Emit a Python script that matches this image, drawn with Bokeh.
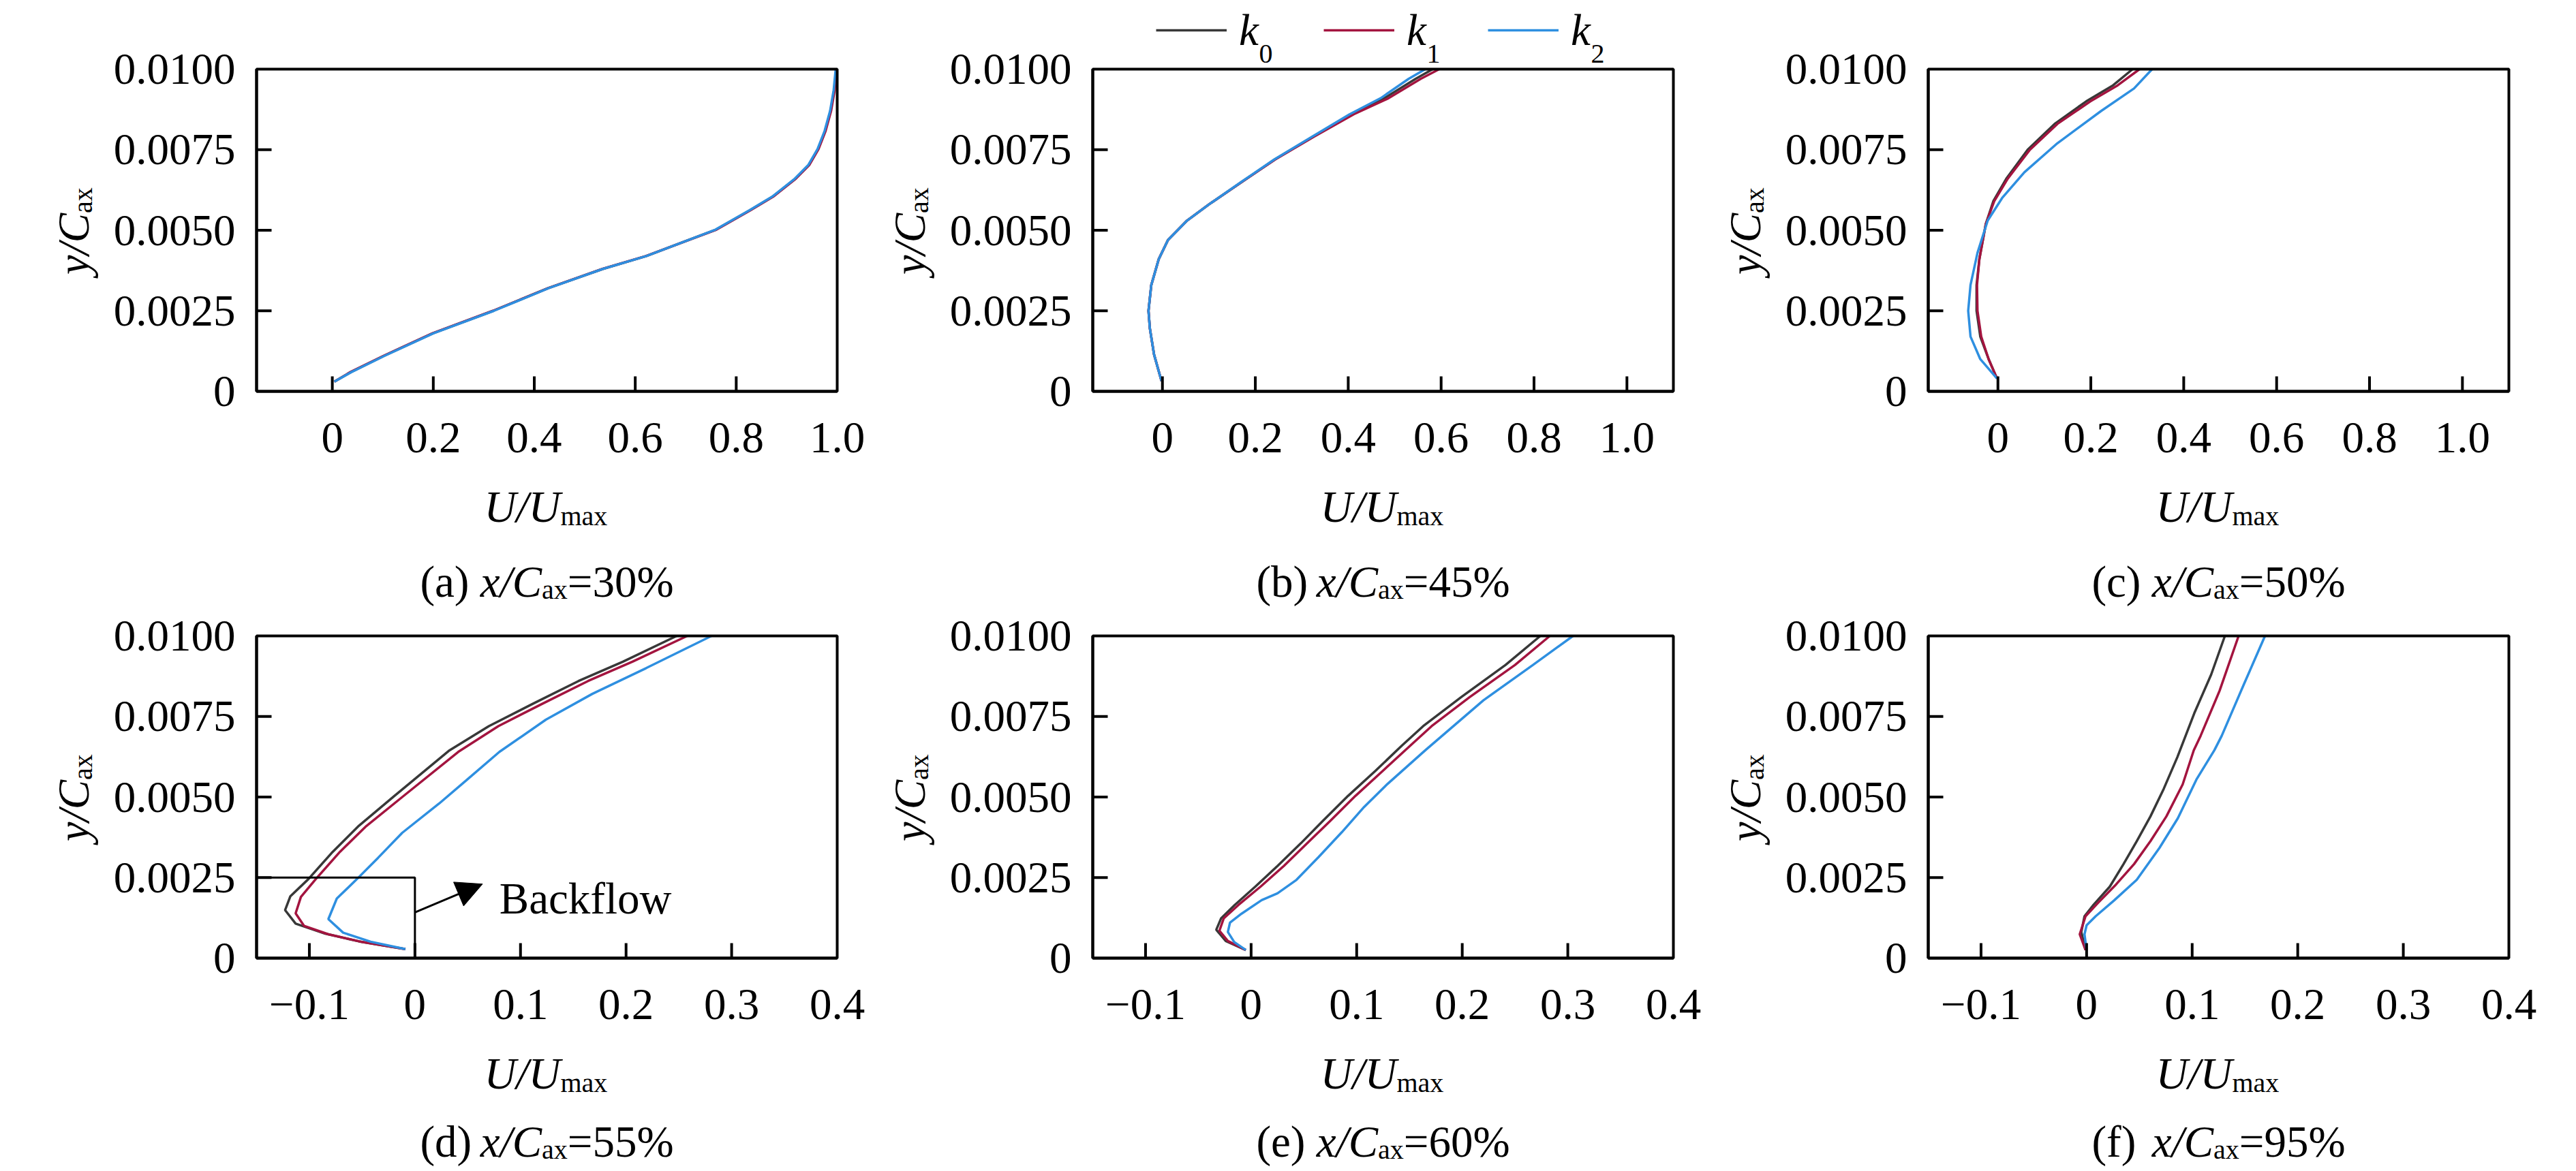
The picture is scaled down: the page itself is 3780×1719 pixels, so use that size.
from bokeh.plotting import figure
from bokeh.models import (Range1d, FixedTicker, Label, BoxAnnotation, Arrow,
                          NormalHead, Legend, LegendItem, LinearAxis)
from bokeh.embed import file_html
from bokeh.resources import INLINE

# ---------------- data ----------------
SERIES = ["k0", "k1", "k2"]
SUBSCRIPTS = ["0", "1", "2"]
COLORS = ["#383838", "#a3143f", "#2e8fe0"]

Y_RANGE = (0.0, 0.01)
Y_TICKS = [0, 0.0025, 0.005, 0.0075, 0.01]
Y_LABELS = ["0", "0.0025", "0.0050", "0.0075", "0.0100"]
X_TICKS_TOP = [0, 0.2, 0.4, 0.6, 0.8, 1.0]
X_LABELS_TOP = ["0", "0.2", "0.4", "0.6", "0.8", "1.0"]
X_TICKS_BOT = [-0.1, 0, 0.1, 0.2, 0.3, 0.4]
X_LABELS_BOT = ["\u22120.1", "0", "0.1", "0.2", "0.3", "0.4"]

CAPTION_LETTERS = ["a", "b", "c", "d", "e", "f"]
CAPTION_PCTS = ["30%", "45%", "50%", "55%", "60%", "95%"]

# (a) x/Cax = 30%
A_Y = [0.0003, 0.0006, 0.0011, 0.0018, 0.0025, 0.0032, 0.0038, 0.0042,
       0.00502, 0.00562, 0.00604, 0.0066, 0.00703, 0.00752, 0.00808,
       0.00871, 0.00935, 0.0100]
A_K0_X = [0.004, 0.037, 0.102, 0.199, 0.319, 0.427, 0.536, 0.622,
          0.760, 0.827, 0.872, 0.917, 0.944, 0.962, 0.976,
          0.987, 0.994, 0.998]
A_K1_X = [0.004, 0.036, 0.101, 0.198, 0.318, 0.427, 0.535, 0.621,
          0.761, 0.828, 0.873, 0.918, 0.945, 0.963, 0.977,
          0.988, 0.995, 0.998]
A_K2_X = [0.004, 0.038, 0.103, 0.200, 0.320, 0.428, 0.536, 0.622,
          0.759, 0.826, 0.871, 0.916, 0.943, 0.961, 0.975,
          0.986, 0.993, 0.997]

# (b) x/Cax = 45%
B_Y = [0.00032, 0.00114, 0.00195, 0.0025, 0.0033, 0.0041, 0.0047, 0.0053,
       0.0058, 0.0065, 0.0072, 0.0079, 0.0086, 0.0091, 0.0097, 0.0100]
B_K0_X = [-0.002, -0.018, -0.027, -0.030, -0.024, -0.008, 0.012, 0.053,
          0.100, 0.171, 0.242, 0.324, 0.405, 0.478, 0.545, 0.582]
B_K1_X = [-0.002, -0.018, -0.027, -0.030, -0.024, -0.008, 0.012, 0.053,
          0.100, 0.171, 0.243, 0.326, 0.412, 0.487, 0.556, 0.596]
B_K2_X = [-0.002, -0.018, -0.027, -0.030, -0.024, -0.008, 0.012, 0.053,
          0.100, 0.170, 0.241, 0.322, 0.403, 0.470, 0.530, 0.566]

# (c) x/Cax = 50%
C_K0_Y = [0.0004, 0.001, 0.0017, 0.0025, 0.0033, 0.0041, 0.0052, 0.0059,
          0.0066, 0.0075, 0.0083, 0.0090, 0.0095, 0.0100]
C_K0_X = [-0.002, -0.020, -0.038, -0.046, -0.046, -0.040, -0.026, -0.010,
          0.018, 0.064, 0.122, 0.190, 0.248, 0.290]
C_K1_Y = [0.0004, 0.001, 0.0017, 0.0025, 0.0033, 0.0041, 0.0052, 0.0059,
          0.0066, 0.0075, 0.0083, 0.0090, 0.0095, 0.0100]
C_K1_X = [-0.002, -0.020, -0.036, -0.044, -0.045, -0.040, -0.026, -0.008,
          0.021, 0.069, 0.128, 0.199, 0.258, 0.305]
C_K2_Y = [0.0004, 0.001, 0.0017, 0.0025, 0.0033, 0.0043, 0.0053, 0.0060,
          0.0068, 0.0077, 0.0087, 0.0094, 0.0100]
C_K2_X = [-0.002, -0.038, -0.059, -0.064, -0.059, -0.044, -0.022, 0.009,
          0.057, 0.128, 0.222, 0.293, 0.332]

# (d) x/Cax = 55%
D_K0_Y = [0.00028, 0.00052, 0.00076, 0.00107, 0.00149, 0.00192, 0.00245, 0.00326,
          0.00411, 0.00502, 0.00643, 0.0072, 0.0079, 0.0086, 0.0092, 0.0100]
D_K0_X = [-0.009, -0.053, -0.085, -0.113, -0.123, -0.118, -0.101, -0.079,
          -0.053, -0.020, 0.032, 0.070, 0.112, 0.155, 0.197, 0.248]
D_K1_Y = [0.00028, 0.0005, 0.00074, 0.0010, 0.00139, 0.0019, 0.00245, 0.0033,
          0.0041, 0.0050, 0.0064, 0.0072, 0.0079, 0.0086, 0.0092, 0.0100]
D_K1_X = [-0.009, -0.050, -0.082, -0.105, -0.113, -0.108, -0.094, -0.071,
          -0.046, -0.012, 0.041, 0.079, 0.121, 0.164, 0.206, 0.258]
D_K2_Y = [0.00028, 0.00051, 0.00079, 0.00121, 0.00185, 0.00245, 0.00311, 0.00389,
          0.0048, 0.0055, 0.0064, 0.0074, 0.0082, 0.0090, 0.0100]
D_K2_X = [-0.009, -0.042, -0.068, -0.082, -0.074, -0.055, -0.035, -0.012,
          0.023, 0.048, 0.080, 0.124, 0.168, 0.219, 0.281]

# (e) x/Cax = 60%
E_K0_Y = [0.00025, 0.00053, 0.00088, 0.00123, 0.00165, 0.00222, 0.00286, 0.00356,
          0.00426, 0.00504, 0.00582, 0.0066, 0.0072, 0.0081, 0.0091, 0.0100]
E_K0_X = [-0.005, -0.024, -0.033, -0.0285, -0.0155, 0.004, 0.025, 0.047,
          0.068, 0.092, 0.118, 0.143, 0.163, 0.199, 0.241, 0.274]
E_K1_Y = [0.00025, 0.00053, 0.00085, 0.00123, 0.00165, 0.00222, 0.00286, 0.00356,
          0.00426, 0.00504, 0.00582, 0.0066, 0.0072, 0.0081, 0.0091, 0.0100]
E_K1_X = [-0.005, -0.022, -0.030, -0.026, -0.012, 0.009, 0.031, 0.053,
          0.075, 0.099, 0.125, 0.151, 0.171, 0.207, 0.250, 0.283]
E_K2_Y = [0.00025, 0.0005, 0.00081, 0.0011, 0.00138, 0.0018, 0.00201, 0.00243,
          0.00314, 0.00391, 0.00469, 0.0054, 0.00645, 0.0080, 0.0091, 0.0100]
E_K2_X = [-0.005, -0.016, -0.022, -0.020, -0.009, 0.010, 0.025, 0.043,
          0.064, 0.086, 0.107, 0.129, 0.165, 0.220, 0.267, 0.305]

# (f) x/Cax = 95%
F_K0_Y = [0.00025, 0.00081, 0.0013, 0.00165, 0.00222, 0.00292, 0.00363, 0.0044,
          0.00525, 0.00624, 0.0076, 0.0088, 0.0100]
F_K0_X = [-0.001, -0.005, -0.002, 0.0065, 0.022, 0.035, 0.0475, 0.0605,
          0.073, 0.086, 0.102, 0.118, 0.131]
F_K1_Y = [0.00025, 0.00074, 0.0013, 0.00172, 0.00229, 0.00292, 0.00363, 0.0044,
          0.00539, 0.00645, 0.0069, 0.0083, 0.0100]
F_K1_X = [-0.001, -0.0065, -0.001, 0.011, 0.028, 0.045, 0.0605, 0.0756,
          0.091, 0.1015, 0.108, 0.126, 0.144]
F_K2_Y = [0.00025, 0.00074, 0.00102, 0.0013, 0.00179, 0.00243, 0.00342, 0.00434,
          0.00554, 0.00645, 0.0069, 0.0085, 0.0100]
F_K2_X = [0.0, -0.002, 0.0, 0.0086, 0.026, 0.0475, 0.069, 0.0864,
          0.104, 0.121, 0.128, 0.149, 0.169]

# Backflow annotation (panel d), data coordinates
BACKFLOW_BOX = dict(left=-0.15, right=0.0, bottom=0.0, top=0.0025)
BACKFLOW_ARROW = dict(x_start=0.0, y_start=0.00142, x_end=0.064, y_end=0.0023)
BACKFLOW_TEXT = dict(x=0.080, y=0.00186, text="Backflow")

PANELS = [
    dict(xr=(-0.15, 1.0), xt=X_TICKS_TOP, xl=X_LABELS_TOP,
         curves=[(A_K0_X, A_Y), (A_K1_X, A_Y), (A_K2_X, A_Y)]),
    dict(xr=(-0.15, 1.1), xt=X_TICKS_TOP, xl=X_LABELS_TOP,
         curves=[(B_K0_X, B_Y), (B_K1_X, B_Y), (B_K2_X, B_Y)]),
    dict(xr=(-0.15, 1.1), xt=X_TICKS_TOP, xl=X_LABELS_TOP,
         curves=[(C_K0_X, C_K0_Y), (C_K1_X, C_K1_Y), (C_K2_X, C_K2_Y)]),
    dict(xr=(-0.15, 0.4), xt=X_TICKS_BOT, xl=X_LABELS_BOT,
         curves=[(D_K0_X, D_K0_Y), (D_K1_X, D_K1_Y), (D_K2_X, D_K2_Y)]),
    dict(xr=(-0.15, 0.4), xt=X_TICKS_BOT, xl=X_LABELS_BOT,
         curves=[(E_K0_X, E_K0_Y), (E_K1_X, E_K1_Y), (E_K2_X, E_K2_Y)]),
    dict(xr=(-0.15, 0.4), xt=X_TICKS_BOT, xl=X_LABELS_BOT,
         curves=[(F_K0_X, F_K0_Y), (F_K1_X, F_K1_Y), (F_K2_X, F_K2_Y)]),
]

# ---------------- style / layout (page pixels) ----------------
FONT = "Liberation Serif"
FS = 65          # main font px
SUB = 40         # subscript font px
W, H = 3776, 1716           # whole canvas
FW, FH = 852, 473           # size of each boxed plot area
COL_LEFT = [376, 1603, 2829]
ROW_TOP = [101, 933]
CAPTION_GAP = [279, 269]    # box bottom -> caption baseline, per row
TICK_LEN = 22               # inward tick length, px

p = figure(frame_width=W, frame_height=H,
           x_range=Range1d(0, W), y_range=Range1d(0, H),
           x_axis_location=None, y_axis_location=None, title=None,
           min_border=0, output_backend="svg", toolbar_location=None,
           background_fill_color="white", border_fill_color="white")
p.grid.visible = False
p.outline_line_color = None


def lab(x, y_page, text, size=FS, style="normal", align="left", angle=0.0):
    p.add_layout(Label(x=x, y=H - y_page, x_units="screen", y_units="screen",
                       text=text, text_font=FONT, text_font_size=f"{size}px",
                       text_font_style=style, text_color="black",
                       text_align=align, text_baseline="alphabetic",
                       angle=angle))


def style_axis(ax):
    ax.axis_line_width = 4
    ax.axis_line_color = "black"
    ax.major_tick_line_color = None
    ax.minor_tick_line_color = None
    ax.major_label_text_font = FONT
    ax.major_label_text_font_size = f"{FS}px"
    ax.major_label_text_color = "black"


renderers = {}
for i, cfg in enumerate(PANELS):
    r_i, c_i = divmod(i, 3)
    BL, BT = COL_LEFT[c_i], ROW_TOP[r_i]
    xlo, xhi = cfg["xr"]
    ylo, yhi = Y_RANGE
    sx = (xhi - xlo) / FW
    sy = (yhi - ylo) / FH
    xn, yn = f"x{i}", f"y{i}"
    p.extra_x_ranges[xn] = Range1d(xlo - BL * sx, xlo + (W - BL) * sx)
    p.extra_y_ranges[yn] = Range1d(ylo + (BT + FH - H) * sy, ylo + (BT + FH) * sy)

    rl = []
    for (xs, ys), col in zip(cfg["curves"], COLORS):
        rl.append(p.line(xs, ys, line_color=col, line_width=3.5,
                         x_range_name=xn, y_range_name=yn))
    renderers[i] = rl

    # inward tick marks at the axis tick positions
    tick_xs, tick_ys = [], []
    for t in cfg["xt"]:
        if xlo < t < xhi:
            tick_xs.append([t, t])
            tick_ys.append([ylo, ylo + TICK_LEN * sy])
    for t in Y_TICKS:
        if ylo < t < yhi:
            tick_xs.append([xlo, xlo + TICK_LEN * sx])
            tick_ys.append([t, t])
    p.multi_line(xs=tick_xs, ys=tick_ys, line_color="black", line_width=4,
                 x_range_name=xn, y_range_name=yn)

    xa = LinearAxis(x_range_name=xn, y_range_name=yn, fixed_location=ylo,
                    bounds=(xlo, xhi), ticker=FixedTicker(ticks=cfg["xt"]))
    style_axis(xa)
    xa.major_label_overrides = {t: l for t, l in zip(cfg["xt"], cfg["xl"])}
    xa.major_label_standoff = 40
    p.add_layout(xa, "below")

    ya = LinearAxis(x_range_name=xn, y_range_name=yn, fixed_location=xlo,
                    bounds=(ylo, yhi), ticker=FixedTicker(ticks=Y_TICKS))
    style_axis(ya)
    ya.major_label_overrides = {t: l for t, l in zip(Y_TICKS, Y_LABELS)}
    ya.major_label_standoff = 25
    p.add_layout(ya, "left")

    p.add_layout(BoxAnnotation(left=xlo, right=xhi, bottom=ylo, top=yhi,
                               x_range_name=xn, y_range_name=yn,
                               fill_alpha=0, line_color="black", line_alpha=1,
                               line_width=4))

    bottom = BT + FH
    # x axis label  U/U_max
    xs_ = BL + FW / 2 + 20
    lab(xs_, bottom + 169, "U/U", style="italic", align="right")
    lab(xs_, bottom + 183, "max", size=SUB)
    # y axis label  y/C_ax (rotated)
    ymid = BT + FH / 2 - 25
    lab(BL - 269, ymid, "y/C", style="italic", align="right", angle=1.5708)
    lab(BL - 255, ymid, "ax", size=SUB, angle=1.5708)
    # caption (x) x/C_ax=NN%
    w1 = FS * 1.36
    w2 = FS * 1.389
    w3 = SUB * 0.944
    w4 = FS * 2.397
    cx0 = BL + FW / 2 - (w1 + w2 + w3 + w4) / 2
    cy = bottom + CAPTION_GAP[r_i]
    lab(cx0, cy, f"({CAPTION_LETTERS[i]}) ")
    lab(cx0 + w1, cy, "x/C", style="italic")
    lab(cx0 + w1 + w2, cy + 12, "ax", size=SUB)
    lab(cx0 + w1 + w2 + w3, cy, "=" + CAPTION_PCTS[i])

# Backflow annotation on (d)
p.add_layout(BoxAnnotation(fill_alpha=0, line_color="black", line_alpha=1,
                           line_width=3, x_range_name="x3", y_range_name="y3",
                           **BACKFLOW_BOX))
p.add_layout(Arrow(end=NormalHead(size=38, fill_color="black", line_color="black"),
                   line_width=3, line_color="black",
                   x_range_name="x3", y_range_name="y3", **BACKFLOW_ARROW))
p.add_layout(Label(x=BACKFLOW_TEXT["x"], y=BACKFLOW_TEXT["y"], text=BACKFLOW_TEXT["text"],
                   x_range_name="x3", y_range_name="y3",
                   text_font=FONT, text_font_size=f"{FS}px", text_color="black",
                   text_baseline="alphabetic", text_align="left"))

# Legend above panel (b)
LEG_X = [1696, 1942, 2183]
LEG_CY = 44
for j in range(3):
    leg = Legend(items=[LegendItem(label="k", renderers=[renderers[1][j]])],
                 location=(LEG_X[j], H - (LEG_CY + 40)), orientation="horizontal",
                 glyph_width=104, glyph_height=80, label_standoff=18,
                 padding=0, margin=0, spacing=0,
                 border_line_alpha=0, background_fill_alpha=0,
                 label_text_font=FONT, label_text_font_style="italic",
                 label_text_font_size=f"{FS}px", label_text_color="black")
    p.add_layout(leg)
    lab(LEG_X[j] + 151, LEG_CY + 34, SUBSCRIPTS[j], size=SUB)

open("out.html", "w").write(file_html(p, INLINE))
